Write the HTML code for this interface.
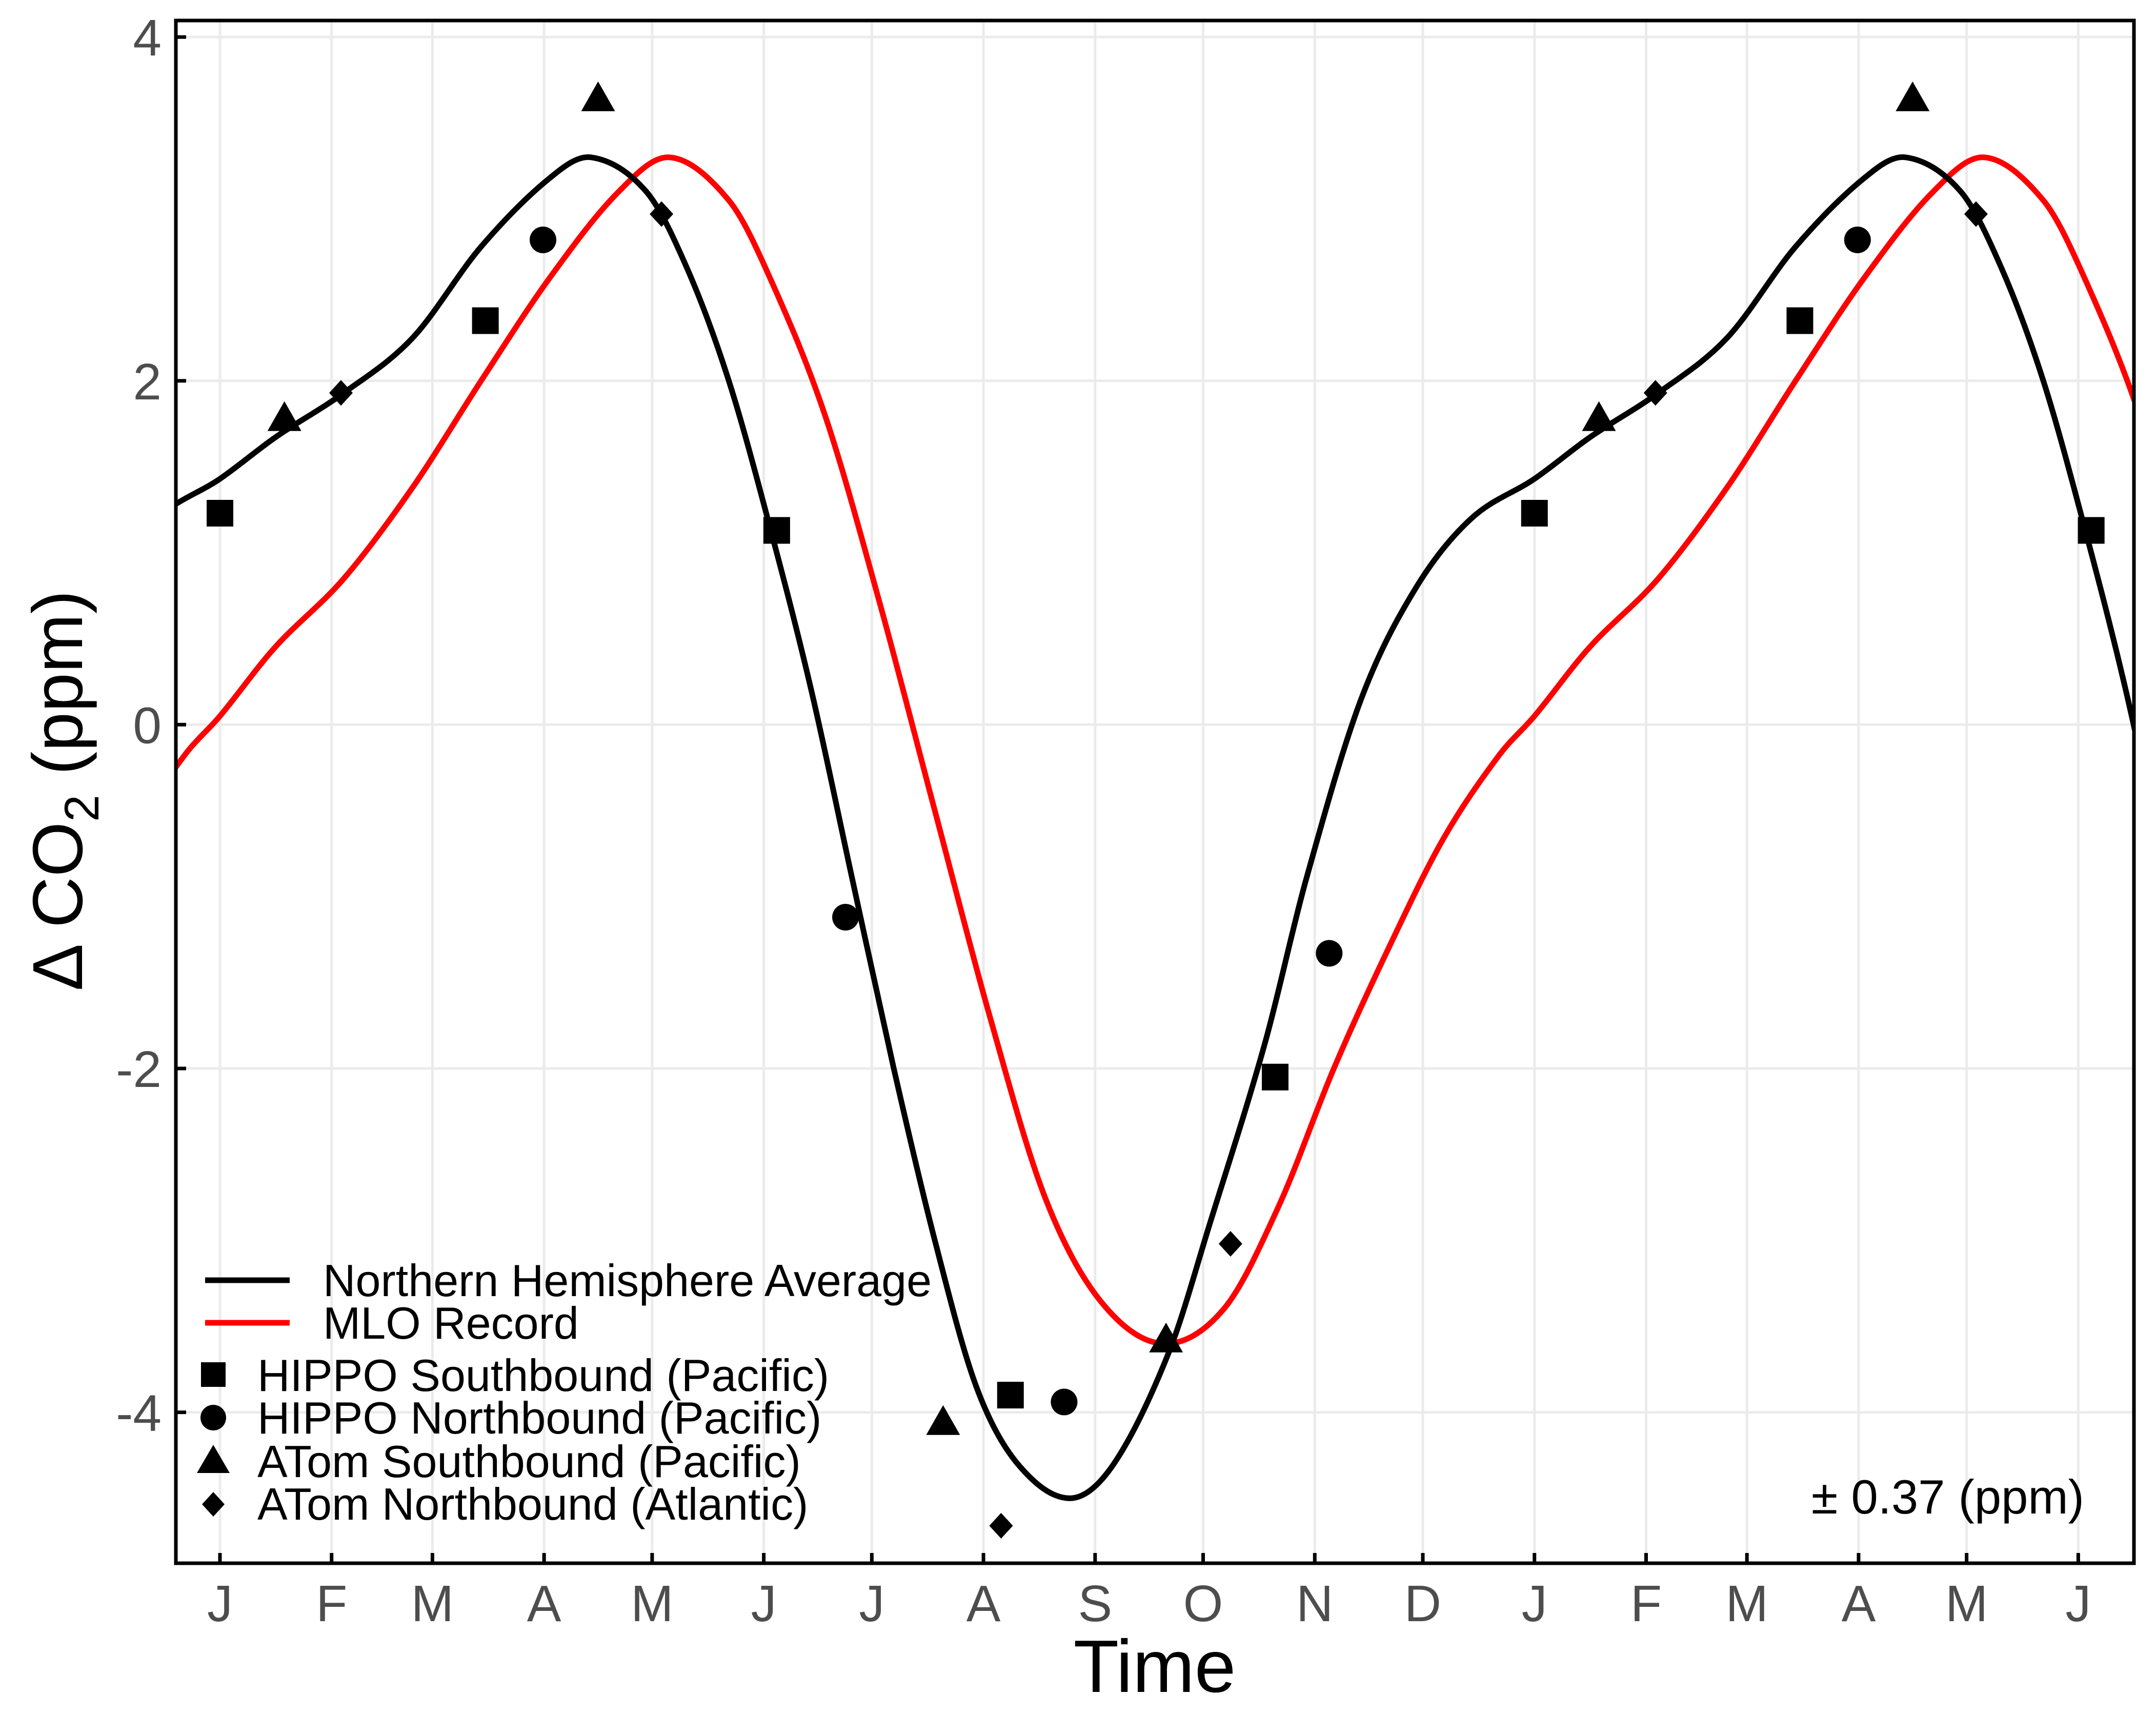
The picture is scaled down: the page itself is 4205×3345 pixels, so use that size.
<!DOCTYPE html>
<html><head><meta charset="utf-8"><style>
html,body{margin:0;padding:0;background:#fff}
svg{display:block}
text{font-family:"Liberation Sans",Arial,sans-serif}
</style></head><body>
<svg id="chart" width="4205" height="3345" viewBox="0 0 4205 3345" xmlns="http://www.w3.org/2000/svg">
<defs><clipPath id="clip"><rect x="343" y="40" width="3819" height="3009"/></clipPath></defs>
<rect x="0" y="0" width="4205" height="3345" fill="#fff"/>
<g id="grid"></g>
<g id="series" clip-path="url(#clip)"></g>
<rect x="343" y="40" width="3819" height="3009" fill="none" stroke="#000" stroke-width="7"/>
<g id="axes"></g>
<text x="2252" y="3300" font-size="145" text-anchor="middle" fill="#000">Time</text>
<text transform="translate(160,1542) rotate(-90)" font-size="138" text-anchor="middle" fill="#000">Δ CO<tspan font-size="95" dy="32">2</tspan><tspan dy="-32"> (ppm)</tspan></text>
<text x="4065" y="2952" font-size="94" text-anchor="end" fill="#000">± 0.37 (ppm)</text>
<g id="legend">
  <line x1="400" y1="2497" x2="565" y2="2497" stroke="#000" stroke-width="11"/>
  <text x="630" y="2528" font-size="88">Northern Hemisphere Average</text>
  <line x1="400" y1="2580" x2="565" y2="2580" stroke="#ff0000" stroke-width="11"/>
  <text x="630" y="2611" font-size="88">MLO Record</text>
  <rect x="392" y="2657" width="48" height="48" fill="#000"/>
  <text x="502" y="2713" font-size="88">HIPPO Southbound (Pacific)</text>
  <circle cx="416" cy="2765" r="25" fill="#000"/>
  <text x="502" y="2796" font-size="88">HIPPO Northbound (Pacific)</text>
  <polygon points="416,2818 448,2873 384,2873" fill="#000"/>
  <text x="502" y="2881" font-size="88">ATom Southbound (Pacific)</text>
  <polygon points="416,2910 438,2934 416,2958 394,2934" fill="#000"/>
  <text x="502" y="2964" font-size="88">ATom Northbound (Atlantic)</text>
</g>
</svg>
<script>
// ---- data (day of year, ppm) ----
const monthLabels = ["J","F","M","A","M","J","J","A","S","O","N","D","J","F","M","A","M","J"];
const monthDays = [0,31,59,90,120,151,181,212,243,273,304,334,365,396,424,455,485,516];
const yTicks = [4,2,0,-2,-4];
const nhDays = [0,15.3,34.4,53.5,72.5,91.6,103.1,118.4,129.8,141.3,152.7,164.2,175.6,187.1,198.5,210,221.5,236,248.2,263.5,274.9,290.2,301.6,316.9,332.2,347.5];
const nhVals = [1.43,1.67,1.93,2.25,2.78,3.18,3.3,3.1,2.65,2.0,1.15,0.2,-0.9,-2.0,-3.0,-3.85,-4.3,-4.5,-4.3,-3.65,-2.9,-1.85,-0.9,0.15,0.8,1.2];
const mloDays = [0,15.3,34.4,53.5,72.5,91.6,110.7,124.9,141.3,152.7,168,183.3,198.5,213.8,229.1,244.4,261.6,278.7,294,309.3,324.5,339.8,355.1];
const mloVals = [0.05,0.45,0.85,1.38,2.0,2.6,3.1,3.3,3.05,2.6,1.8,0.7,-0.5,-1.7,-2.75,-3.35,-3.6,-3.4,-2.8,-2.0,-1.3,-0.66,-0.18];
const sqDays = [0,73.7,154.6,219.5,293];
const sqVals = [1.23,2.35,1.13,-3.9,-2.05];
const ciDays = [89.7,173.7,234.4,308];
const ciVals = [2.82,-1.12,-3.94,-1.33];
const trDays = [17.9,105,200.8,262.7];
const trVals = [1.78,3.64,-4.06,-3.58];
const diDays = [33.6,122.6,216.9,280.6];
const diVals = [1.93,2.97,-4.66,-3.02];
const period = 365;

// ---- scales ----
const X0=343,X1=4162,Y0=40,Y1=3049;
const xs = d => 429 + 7.024*d;
const ys = v => 1413.4 - 335.3*v;
const NS="http://www.w3.org/2000/svg";
function mk(tag, attrs, parent){const e=document.createElementNS(NS,tag);for(const k in attrs)e.setAttribute(k,attrs[k]);parent.appendChild(e);return e;}
const grid=document.getElementById('grid'), axes=document.getElementById('axes'), series=document.getElementById('series');

yTicks.forEach(v=>{
  const l=mk('line',{x1:X0,x2:X1,y1:ys(v),y2:ys(v),stroke:'#ebebeb','stroke-width':5},grid);
  
  
  const t=mk('line',{x1:X0,x2:X0+20,y1:ys(v),y2:ys(v),stroke:'#000','stroke-width':7},axes);
  
  
  const tx=mk('text',{x:X0-28,y:ys(v)+36,'font-size':100,'text-anchor':'end',fill:'#4d4d4d'},axes);
  
  
  tx.textContent=String(v);
});
monthDays.forEach((d,i)=>{
  const x=xs(d);
  const l=mk('line',{x1:x,x2:x,y1:Y0,y2:Y1,stroke:'#ebebeb','stroke-width':5},grid);
  
  
  const t=mk('line',{x1:x,x2:x,y1:Y1-20,y2:Y1,stroke:'#000','stroke-width':7},axes);
  
  
  const tx=mk('text',{x:x,y:3162,'font-size':100,'text-anchor':'middle',fill:'#4d4d4d'},axes);
  
  
  tx.textContent=monthLabels[i];
});

function curvePath(days, vals){
  const D=[],V=[];
  for(let k=-1;k<=2;k++) days.forEach((d,i)=>{D.push(d+k*period);V.push(vals[i]);});
  const n=D.length, m=[];
  for(let i=0;i<n;i++){
    const a=Math.max(0,i-1), b=Math.min(n-1,i+1);
    m.push((V[b]-V[a])/(D[b]-D[a]));
  }
  let s='M'+xs(D[0])+','+ys(V[0]);
  for(let i=0;i<n-1;i++){
    const h=D[i+1]-D[i];
    s+=' C'+xs(D[i]+h/3)+','+ys(V[i]+m[i]*h/3)+' '+xs(D[i+1]-h/3)+','+ys(V[i+1]-m[i+1]*h/3)+' '+xs(D[i+1])+','+ys(V[i+1]);
  }
  return s;
}
const mlo=mk('path',{d:curvePath(mloDays,mloVals),fill:'none',stroke:'#ff0000','stroke-width':11},series);


const nh=mk('path',{d:curvePath(nhDays,nhVals),fill:'none',stroke:'#000','stroke-width':11},series);



function inRange(d){const x=xs(d);return x>=X0-20&&x<=X1+20;}
function eachPt(days,vals,fn){for(let k=0;k<=1;k++)days.forEach((d,i)=>{const dd=d+k*period;if(inRange(dd))fn(xs(dd),ys(vals[i]));});}
eachPt(sqDays,sqVals,(x,y)=>{const e=mk('rect',{x:x-26,y:y-26,width:52,height:52,fill:'#000'},series);
  
  });
eachPt(ciDays,ciVals,(x,y)=>{const e=mk('circle',{cx:x,cy:y,r:26,fill:'#000'},series);
  
  });
eachPt(trDays,trVals,(x,y)=>{const e=mk('polygon',{points:`${x},${y-34} ${x+33},${y+24} ${x-33},${y+24}`,fill:'#000'},series);
  
  });
eachPt(diDays,diVals,(x,y)=>{const e=mk('polygon',{points:`${x},${y-25} ${x+23},${y} ${x},${y+25} ${x-23},${y}`,fill:'#000'},series);
  
  });
</script>
</body></html>
